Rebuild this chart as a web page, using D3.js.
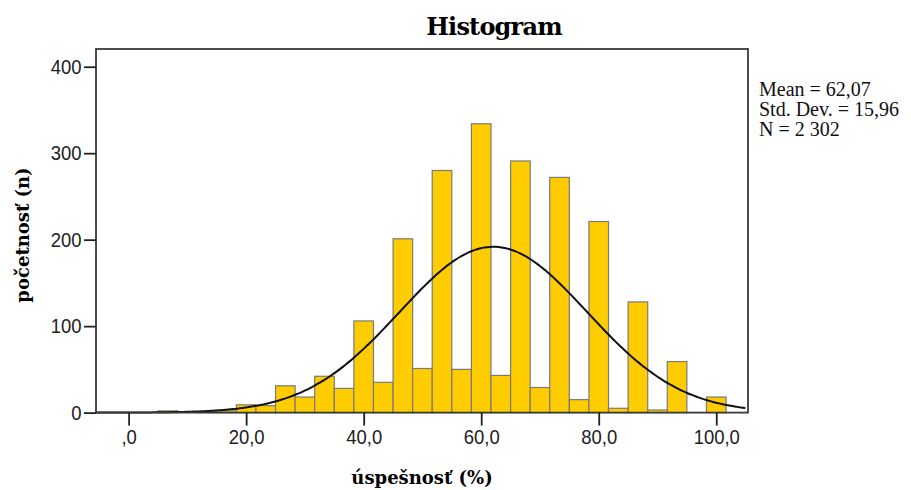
<!DOCTYPE html>
<html>
<head>
<meta charset="utf-8">
<script src="https://cdn.jsdelivr.net/npm/d3@7"></script>
<style>
  body { margin: 0; background: #fff; }
  svg { display: block; }
</style>
</head>
<body>
<script>
var binCenters = [0, 3.33, 6.67, 10, 13.33, 16.67, 20, 23.33, 26.67, 30, 33.33, 36.67, 40, 43.33, 46.67,
                  50, 53.33, 56.67, 60, 63.33, 66.67, 70, 73.33, 76.67, 80, 83.33, 86.67, 90, 93.33, 96.67, 100];
var binCounts = [0, 0, 2, 0, 1, 2, 9, 8, 31, 18, 42, 28, 106, 35, 201,
                 51, 280, 50, 334, 43, 291, 29, 272, 15, 221, 5, 128, 3, 59, 0, 18];
var binWidth = 10 / 3;

var xTicks = [0, 20, 40, 60, 80, 100];
var yTicks = [0, 100, 200, 300, 400];

var stats = { mean: 62.07, sd: 15.96, n: 2302 };
var legendLines = ["Mean = 62,07", "Std. Dev. = 15,96", "N = 2 302"];

var width = 911, height = 490;
// plot frame (don't call these top/left, window.top is taken)
var plotL = 96, plotR = 748, plotT = 49, plotB = 412.6;

var svg = d3.select("body").append("svg")
    .attr("width", width)
    .attr("height", height);

var x = d3.scaleLinear().domain([-5.55, 105.4]).range([plotL, plotR]);
var y = d3.scaleLinear().domain([0, 420.5]).range([plotB, plotT]);

// bars
var bars = binCenters.map(function(c, i) { return { c: c, n: binCounts[i] }; })
    .filter(function(d) { return d.n > 0; });

svg.append("g").selectAll("rect")
    .data(bars)
    .enter()
    .append("rect")
    .attr("x", function(d) { return x(d.c - binWidth / 2); })
    .attr("width", function(d) { return x(d.c + binWidth / 2) - x(d.c - binWidth / 2); })
    .attr("y", function(d) { return y(d.n); })
    .attr("height", function(d) { return y(0) - y(d.n); })
    .attr("fill", "#ffcc00")
    .attr("stroke", "#7a7a7a")
    .attr("stroke-width", 1.2);

// fitted normal curve (from the mean / sd shown in the legend)
var curvePts = d3.range(x.domain()[0], x.domain()[1] + 0.01, 0.5).map(function(v) {
    var z = (v - stats.mean) / stats.sd;
    var dens = Math.exp(-0.5 * z * z) / (stats.sd * Math.sqrt(2 * Math.PI));
    return [v, stats.n * binWidth * dens];
});

var line = d3.line()
    .x(function(d) { return x(d[0]); })
    .y(function(d) { return y(d[1]); })
    .curve(d3.curveBasis);

svg.append("path")
    .datum(curvePts)
    .attr("d", line)
    .attr("fill", "none")
    .attr("stroke", "#111")
    .attr("stroke-width", 2);

// frame
svg.append("rect")
    .attr("x", plotL)
    .attr("y", plotT)
    .attr("width", plotR - plotL)
    .attr("height", plotB - plotT)
    .attr("fill", "none")
    .attr("stroke", "#3a3a3a")
    .attr("stroke-width", 1.8);

function fmtX(v) {
    return v === 0 ? ",0" : v.toFixed(1).replace(".", ",");
}

var xAxis = svg.append("g")
    .attr("transform", "translate(0," + plotB + ")")
    .call(d3.axisBottom(x).tickValues(xTicks).tickSize(13).tickPadding(4).tickFormat(fmtX));

var yAxis = svg.append("g")
    .attr("transform", "translate(" + plotL + ",0)")
    .call(d3.axisLeft(y).tickValues(yTicks).tickSize(12).tickPadding(2));

// tick labels: a tall, narrow look like the original
[xAxis, yAxis].forEach(function(a) {
    a.select(".domain").remove();
    a.selectAll(".tick line").attr("stroke", "#222").attr("stroke-width", 1.8);
    a.selectAll(".tick text")
        .attr("fill", "#222")
        .style("font-family", "'Liberation Sans', Arial, sans-serif")
        .style("font-size", "21px");
});
xAxis.selectAll(".tick text").attr("transform", "scale(0.88,1)");
yAxis.selectAll(".tick text").attr("x", -16.5).attr("transform", "scale(0.88,1)");

// title
svg.append("text")
    .attr("x", 494)
    .attr("y", 35)
    .attr("text-anchor", "middle")
    .style("font-family", "'DejaVu Serif', serif")
    .style("font-weight", "bold")
    .style("font-size", "24px")
    .style("letter-spacing", "-0.8px")
    .text("Histogram");

// axis titles
svg.append("text")
    .attr("x", 422)
    .attr("y", 484)
    .attr("text-anchor", "middle")
    .style("font-family", "'DejaVu Serif', serif")
    .style("font-weight", "bold")
    .style("font-size", "18px")
    .text("úspešnosť (%)");

svg.append("text")
    .attr("transform", "translate(29,235) rotate(-90)")
    .attr("text-anchor", "middle")
    .style("font-family", "'DejaVu Serif', serif")
    .style("font-weight", "bold")
    .style("font-size", "18px")
    .text("početnosť (n)");

// stats legend
svg.append("g").selectAll("text")
    .data(legendLines)
    .enter()
    .append("text")
    .attr("x", 759)
    .attr("y", function(d, i) { return 96 + i * 20; })
    .style("font-family", "'Liberation Serif', 'Times New Roman', serif")
    .style("font-size", "20px")
    .attr("fill", "#111")
    .text(function(d) { return d; });
</script>
</body>
</html>
